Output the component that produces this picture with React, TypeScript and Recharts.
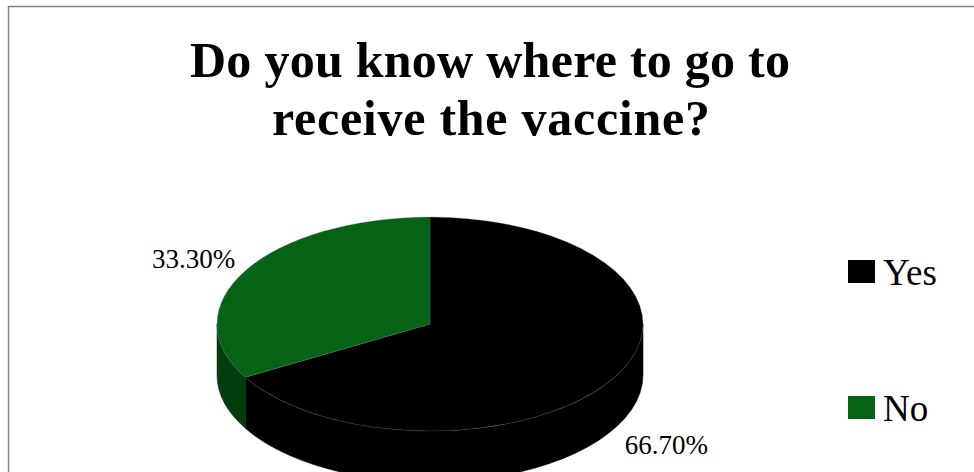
import { PieChart, Pie, Cell, Legend } from 'recharts';

const categories = ['Yes', 'No'];
const shares = [66.7, 33.3];
const topColors = ['#000000', '#046314'];
const wallColors = ['#000000', '#033d0c'];
const titleLines = ['Do you know where to go to', 'receive the vaccine?'];

const datos = categories.map((name, i) => ({ name, value: shares[i] }));

// perspectiva del "pastel 3D"
const RATIO = 107 / 213;
const DEPTH = 51;
const RAD = Math.PI / 180;

function punto(cx: number, cy: number, rx: number, ry: number, angle: number) {
  return [cx + rx * Math.cos(-angle * RAD), cy + ry * Math.sin(-angle * RAD)];
}

function Porcion3D(props: any) {
  const { cx, cy, outerRadius, startAngle, endAngle, fill, name } = props;
  const rx = outerRadius;
  const ry = outerRadius * RATIO;
  const idx = categories.indexOf(name);
  const pared = wallColors[idx] ?? fill;
  const hi = Math.max(startAngle, endAngle);
  const lo = Math.min(startAngle, endAngle);
  const [x1, y1] = punto(cx, cy, rx, ry, hi);
  const [x2, y2] = punto(cx, cy, rx, ry, lo);
  const grande = hi - lo > 180 ? 1 : 0;
  const tapa = `M${cx},${cy} L${x1},${y1} A${rx},${ry} 0 ${grande} 1 ${x2},${y2} Z`;

  // paredes visibles: solo la mitad frontal de la elipse
  const paredes: string[] = [];
  for (const k of [-720, -360, 0, 360]) {
    const a1 = Math.min(hi, k);
    const a2 = Math.max(lo, -180 + k);
    if (a1 > a2) {
      const [px1, py1] = punto(cx, cy, rx, ry, a1);
      const [px2, py2] = punto(cx, cy, rx, ry, a2);
      paredes.push(
        `M${px1},${py1} A${rx},${ry} 0 0 1 ${px2},${py2} L${px2},${py2 + DEPTH} A${rx},${ry} 0 0 0 ${px1},${py1 + DEPTH} Z`
      );
    }
  }

  return (
    <g>
      {paredes.map((d, i) => (
        <path key={i} d={d} fill={pared} stroke={pared} strokeWidth={0.5} />
      ))}
      <path d={tapa} fill={fill} stroke="rgba(120,120,120,0.45)" strokeWidth={0.6} />
    </g>
  );
}

function Etiqueta(props: any) {
  const { cx, cy, midAngle, outerRadius, percent } = props;
  const [x, y] = punto(cx, cy, outerRadius + 12, outerRadius * RATIO + 12, midAngle);
  const frente = Math.sin(-midAngle * RAD) > 0;
  const izquierda = Math.cos(midAngle * RAD) < 0;
  return (
    <text
      x={x}
      y={frente ? y + DEPTH : y + 4}
      textAnchor={izquierda ? 'end' : 'start'}
      dominantBaseline={frente ? 'hanging' : 'auto'}
      fontFamily="'Liberation Serif', serif"
      fontSize={27}
      fill="#000"
    >
      {`${(percent * 100).toFixed(2)}%`}
    </text>
  );
}

function Leyenda() {
  return (
    <div style={{ position: 'relative', width: 120, height: 190 }}>
      {categories.map((name, i) => (
        <div key={name} style={{ position: 'absolute', left: 0, top: i * 136, height: 46, width: 120 }}>
          <div
            style={{
              position: 'absolute',
              left: 0,
              top: 10,
              width: 27,
              height: 23,
              background: topColors[i],
            }}
          />
          <span
            style={{
              position: 'absolute',
              left: 35,
              top: 4,
              fontFamily: "'Liberation Serif', serif",
              fontSize: 37,
              lineHeight: '37px',
              color: '#000',
              whiteSpace: 'nowrap',
            }}
          >
            {name}
          </span>
        </div>
      ))}
    </div>
  );
}

export default function App() {
  return (
    <div
      style={{
        position: 'absolute',
        left: 0,
        top: 0,
        width: 974,
        height: 472,
        background: '#fff',
        overflow: 'hidden',
      }}
    >
      <PieChart width={974} height={472} margin={{ top: 0, right: 0, bottom: 0, left: 0 }}>
        <rect x={8.5} y={6.5} width={990} height={490} fill="none" stroke="#878787" strokeWidth={1.5} />
        <text
          x={490}
          y={77}
          textAnchor="middle"
          fontFamily="'Liberation Serif', serif"
          fontWeight="bold"
          fontSize={50}
          textLength={600}
          fill="#000"
        >
          {titleLines[0]}
        </text>
        <text
          x={491}
          y={135}
          textAnchor="middle"
          fontFamily="'Liberation Serif', serif"
          fontWeight="bold"
          fontSize={50}
          textLength={438}
          fill="#000"
        >
          {titleLines[1]}
        </text>
        <Pie
          data={datos}
          dataKey="value"
          nameKey="name"
          cx={430}
          cy={324}
          outerRadius={213}
          startAngle={90}
          endAngle={-270}
          isAnimationActive={false}
          inactiveShape={Porcion3D}
          activeShape={Porcion3D}
          shape={Porcion3D}
          label={Etiqueta}
          labelLine={false}
          stroke="none"
        >
          {datos.map((d, i) => (
            <Cell key={d.name} fill={topColors[i]} />
          ))}
        </Pie>
        <Legend
          layout="vertical"
          align="right"
          verticalAlign="middle"
          content={() => <Leyenda />}
          wrapperStyle={{ left: 848, top: 250, width: 120 }}
        />
      </PieChart>
    </div>
  );
}
